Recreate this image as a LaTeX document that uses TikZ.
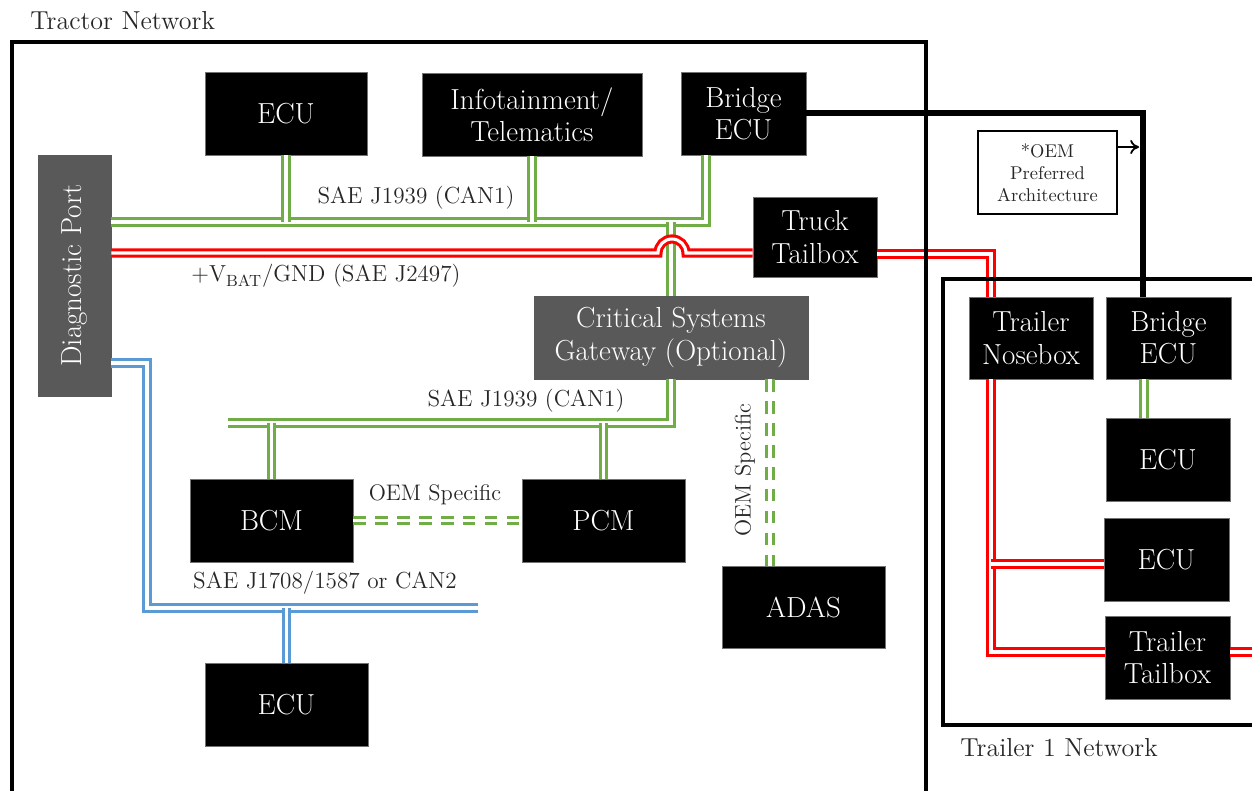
\documentclass[tikz,border=0pt]{standalone}
\usepackage{graphicx}
\usetikzlibrary{arrows.meta,calc}
\definecolor{cgreen}{HTML}{70AD47}
\definecolor{cred}{HTML}{FF0000}
\definecolor{cblue}{HTML}{5B9BD5}
\definecolor{cgray}{HTML}{595959}
\begin{document}
\begin{tikzpicture}[x=0.02cm,y=-0.02cm,
  box/.style 2 args={minimum width=#1*0.02cm, minimum height=#2*0.02cm, inner sep=0pt, align=center, text=white, font=\fontsize{16.5}{18.3}\selectfont},
  blk/.style={fill=black, draw=black!55, line width=0.4pt},
  gry/.style={fill=cgray, draw=cgray},
  bus/.style={draw=#1, line width=1.75pt, double=white, double distance=1.75pt},
  dbus/.style={bus=#1, dash pattern=on 7pt off 5.5pt},
  lbl/.style={font=\fontsize{13.2}{15}\selectfont, inner sep=0pt, text=black!85},
  slbl/.style={font=\fontsize{12.8}{14}\selectfont, inner sep=0pt, text=black!85},
  ttl/.style={font=\fontsize{14.8}{16}\selectfont, inner sep=0pt, anchor=west, text=black!85},
  frame/.style={draw=black, line width=1.8pt}]
\useasboundingbox (0,0) rectangle (1252,791);
\clip (0,0) rectangle (1252,791);

% nodes
\node[box={162}{83}, blk] (ecuT) at (286,113.5) {ECU};
\node[box={220}{83}, blk] (info) at (532,114.5) {Infotainment/\\Telematics};
\node[box={125}{83}, blk] (bridgeT) at (743.5,113.5) {Bridge\\ECU};
\node[box={73}{241}, gry] (diag) at (74.5,275.5) {\rotatebox{90}{Diagnostic Port}};
\node[box={124}{80}, blk] (truck) at (815,237) {Truck\\Tailbox};
\node[box={274}{83}, gry] (csg) at (671,337.5) {Critical Systems\\Gateway (Optional)};
\node[box={163}{83}, blk] (bcm) at (271.5,520.5) {BCM};
\node[box={163}{83}, blk] (pcm) at (603.5,520.5) {PCM};
\node[box={163}{82}, blk] (adas) at (803.5,607) {ADAS};
\node[box={163}{83}, blk] (ecuB) at (286.5,704.5) {ECU};
\node[box={124}{82}, blk] (nose) at (1031,338) {Trailer\\Nosebox};
\node[box={125}{82}, blk] (bridgeR) at (1168.5,338) {Bridge\\ECU};
\node[box={124}{83}, blk] (ecuR1) at (1168,459.5) {ECU};
\node[box={125}{83}, blk] (ecuR2) at (1166.5,559.5) {ECU};
\node[box={125}{83}, blk] (tail) at (1167.5,657.5) {Trailer\\Tailbox};
\node[box={139}{83}, draw=black, line width=1.1pt, fill=white, text=black!85,
      font=\fontsize{10.5}{12.5}\selectfont] (oem) at (1047.5,172.5) {*OEM\\Preferred\\Architecture};

% green CAN1 top bus
\coordinate (gA) at (706,222);
\draw[bus=cgreen] (diag.east |- gA) -- (gA) -- (bridgeT.south -| gA);
\draw[bus=cgreen] (ecuT.south) -- (ecuT.south |- gA);
\draw[bus=cgreen] (info.south) -- (info.south |- gA);
\draw[bus=cgreen] (csg.north |- gA) -- (csg.north);

% green CAN1 lower bus
\coordinate (gL) at (228,423);
\draw[bus=cgreen] (csg.south) -- (csg.south |- gL) -- (gL);
\draw[bus=cgreen] (bcm.north) -- (bcm.north |- gL);
\draw[bus=cgreen] (pcm.north) -- (pcm.north |- gL);

% OEM specific dashed
\draw[dbus=cgreen] (bcm.east) -- (pcm.west);
\draw[dbus=cgreen] (csg.south -| 770,0) -- (adas.north -| 770,0);

% trailer green
\draw[bus=cgreen] (bridgeR.south -| 1144,0) -- (ecuR1.north -| 1144,0);

% red power bus
\draw[bus=cred] (diag.east |- 0,253) -- (658,253) arc(180:360:14) -- (truck.west |- 0,253);
\coordinate (rA) at (991,254);
\draw[bus=cred] (truck.east |- rA) -- (rA) -- (nose.north -| rA);
\coordinate (rB) at (991,652);
\draw[bus=cred] (nose.south -| rB) -- (rB) -- (tail.west |- rB);
\draw[bus=cred] (991,564) -- (ecuR2.west |- 0,564);
\coordinate (rEnd) at (1262,652);
\draw[bus=cred] (tail.east |- rB) -- (rEnd);

% blue bus
\coordinate (bA) at (147,608);
\coordinate (bEnd) at (478,608);
\draw[bus=cblue] (diag.east |- 0,363) -- (147,363) -- (bA) -- (bEnd);
\draw[bus=cblue] (ecuB.north |- bA) -- (ecuB.north);

% frames
\draw[frame] (12,42) rectangle (926,830);
\draw[frame] (943,279) rectangle (1280,725);

% bridge link
\coordinate (bk) at (1143,113);
\draw[line width=3.8pt, line join=miter] (bridgeT.east |- bk) -- (bk) -- (bridgeR.north -| bk);
\coordinate (oemtip) at (1139,147);
\draw[line width=1pt, -{To[length=5pt,width=8pt]}] (oem.east |- oemtip) -- (oemtip);

% labels
\node[ttl] (t1) at (30,21) {Tractor Network};
\node[ttl] (t2) at (960,748) {Trailer 1 Network};
\node[lbl] (l1) at (416,198) {SAE J1939 (CAN1)};
\node[lbl] (l2) at (326,276) {+V\textsubscript{BAT}/GND (SAE J2497)};
\node[lbl] (l3) at (526,401) {SAE J1939 (CAN1)};
\node[slbl] (l4) at (435,495) {OEM Specific};
\node[slbl, rotate=90] (l5) at (745,470) {OEM Specific};
\node[lbl] (l6) at (325,583) {SAE J1708/1587 or CAN2};
\end{tikzpicture}
\end{document}
